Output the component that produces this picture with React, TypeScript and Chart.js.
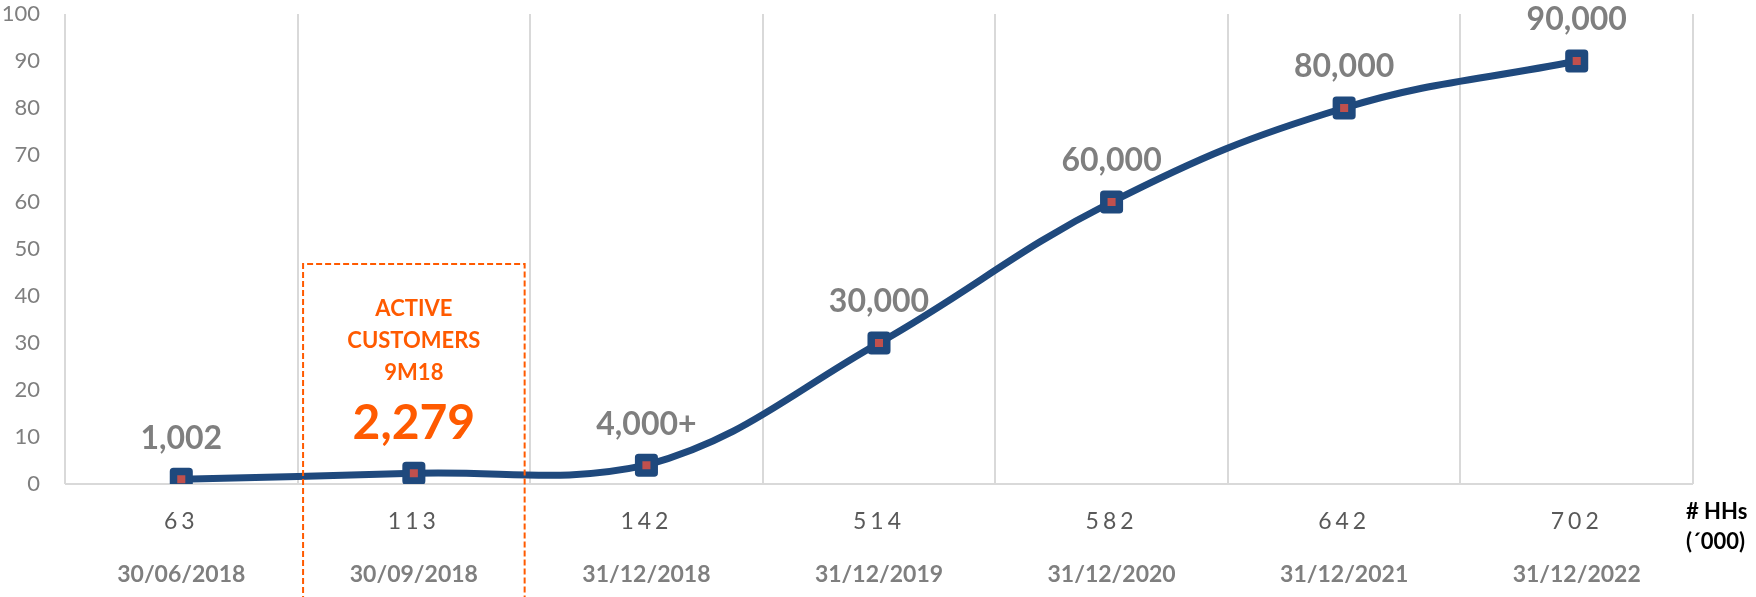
import React, { useEffect, useRef } from "react";
import { Chart, registerables } from "chart.js";

Chart.register(...registerables);

// ---- data ----
const households = ["63", "113", "142", "514", "582", "642", "702"];
const dates = ["30/06/2018", "30/09/2018", "31/12/2018", "31/12/2019", "31/12/2020", "31/12/2021", "31/12/2022"];
const customersThousands = [1.002, 2.279, 4, 30, 60, 80, 90];
const valueLabels = ["1,002", "2,279", "4,000+", "30,000", "60,000", "80,000", "90,000"];
const highlightIndex = 1;
const highlightLines = ["ACTIVE", "CUSTOMERS", "9M18"];
const highlightBoxTopValue = 46.8;
const unitLines = ["# HHs", "(´000)"];
const yMin = 0;
const yMax = 100;
const yStep = 10;

const FONT = "Lato, 'Open Sans', sans-serif";
const ORANGE = "#ff5a00";
const GRAY = "#7f7f7f";
const BLUE = "#1f497d";

export default function App() {
  const ref = useRef<HTMLCanvasElement>(null);

  useEffect(() => {
    document.body.style.margin = "0";
    const canvas = ref.current!;

    const overlay = {
      id: "overlay",
      beforeDatasetsDraw(chart: any) {
        chart.ctx.lineJoin = "round";
      },
      afterDatasetsDraw(chart: any) {
        const ctx = chart.ctx as CanvasRenderingContext2D;
        const meta = chart.getDatasetMeta(0);
        const xs = chart.scales.x;
        const ys = chart.scales.y;
        ctx.save();
        ctx.lineJoin = "miter";
        ctx.textAlign = "center";
        ctx.textBaseline = "middle";
        meta.data.forEach((pt: any, i: number) => {
          if (i === highlightIndex) {
            ctx.fillStyle = ORANGE;
            ctx.font = `bold 48px ${FONT}`;
            ctx.fillText(valueLabels[i], pt.x, pt.y - 50);
            ctx.font = `bold 22px ${FONT}`;
            highlightLines.forEach((t, k) => {
              ctx.fillText(t, pt.x, pt.y - 164 + k * 32);
            });
          } else {
            ctx.fillStyle = GRAY;
            ctx.font = `bold 32px ${FONT}`;
            ctx.fillText(valueLabels[i], pt.x, pt.y - 41);
          }
        });
        // dashed highlight box
        const cx = xs.getPixelForValue(highlightIndex);
        const half = (xs.getPixelForValue(1) - xs.getPixelForValue(0)) / 2 - 5.5;
        const top = ys.getPixelForValue(highlightBoxTopValue);
        ctx.strokeStyle = ORANGE;
        ctx.lineWidth = 2;
        ctx.setLineDash([6, 3]);
        ctx.beginPath();
        ctx.moveTo(cx - half, chart.height + 5);
        ctx.lineTo(cx - half, top);
        ctx.lineTo(cx + half, top);
        ctx.lineTo(cx + half, chart.height + 5);
        ctx.stroke();
        ctx.setLineDash([]);
        // unit caption
        ctx.fillStyle = "#000000";
        ctx.font = `bold 22px ${FONT}`;
        ctx.textAlign = "left";
        ctx.fillText(unitLines[0], 1686, 512);
        ctx.fillText(unitLines[1], 1686, 542);
        ctx.restore();
        (ctx as any).letterSpacing = "4px";
      },
      afterDraw(chart: any) {
        (chart.ctx as any).letterSpacing = "0px";
      },
    };

    const chart = new Chart(canvas, {
      type: "line",
      data: {
        labels: households,
        datasets: [
          {
            data: customersThousands,
            borderColor: BLUE,
            borderWidth: 7,
            tension: 0.4,
            pointStyle: "rect",
            pointRadius: 11,
            pointHoverRadius: 11,
            pointBackgroundColor: "#c0504d",
            pointBorderColor: BLUE,
            pointBorderWidth: 7.5,
            pointHoverBorderWidth: 7.5,
            fill: false,
          },
        ],
      },
      options: {
        responsive: false,
        animation: false,
        events: [],
        layout: { autoPadding: false, padding: { left: 0, right: 63, top: 14, bottom: 0 } },
        plugins: { legend: { display: false }, tooltip: { enabled: false } },
        scales: {
          y: {
            min: yMin,
            max: yMax,
            border: { display: false },
            grid: {
              drawTicks: false,
              color: (c: any) => (c.tick && c.tick.value === 0 ? "#d9d9d9" : "rgba(0,0,0,0)"),
              lineWidth: 2,
            },
            ticks: {
              stepSize: yStep,
              padding: 25,
              color: GRAY,
              font: { family: FONT, size: 22 },
            },
            afterFit(s: any) {
              s.width = 65;
              s.paddingTop = 0;
              s.paddingBottom = 0;
            },
          },
          x: {
            type: "category",
            position: "bottom",
            offset: true,
            border: { display: false },
            grid: { display: false, drawTicks: false },
            ticks: {
              z: 1,
              padding: 24,
              color: "#595959",
              font: { family: FONT, size: 23 },
              maxRotation: 0,
              autoSkip: false,
            },
            afterFit(s: any) {
              s.height = 60;
            },
          },
          x2: {
            type: "category",
            position: "bottom",
            labels: dates,
            offset: true,
            border: { display: false },
            grid: { display: true, offset: true, drawTicks: false, color: "#d9d9d9", lineWidth: 2 },
            ticks: {
              padding: 17,
              color: GRAY,
              font: { family: FONT, size: 23, weight: "bold" },
              maxRotation: 0,
              autoSkip: false,
            },
            afterFit(s: any) {
              s.height = 53;
            },
          },
        },
      },
      plugins: [overlay],
    } as any);

    return () => chart.destroy();
  }, []);

  return (
    <div style={{ width: 1756, height: 597, position: "relative" }}>
      <canvas ref={ref} width={1756} height={597} style={{ display: "block" }} />
    </div>
  );
}
